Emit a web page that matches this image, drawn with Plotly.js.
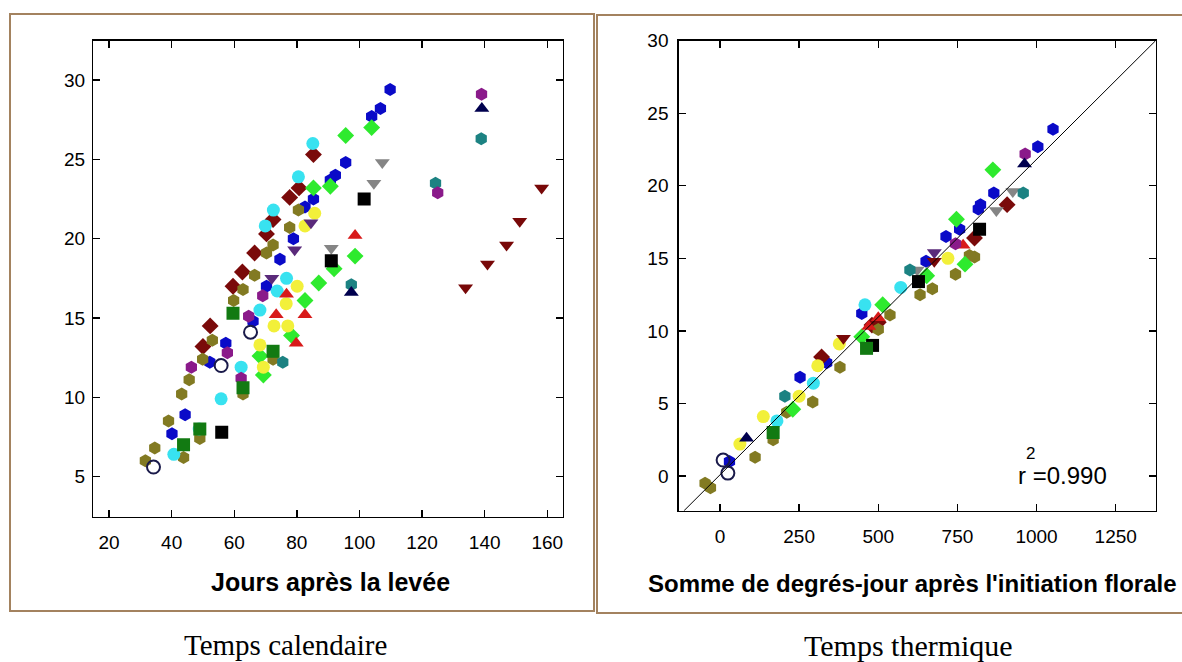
<!DOCTYPE html>
<html>
<head>
<meta charset="utf-8">
<script src="https://cdn.plot.ly/plotly-3.0.1.min.js"></script>
<style>html,body{margin:0;padding:0;background:#fff;}#chart{width:1182px;height:662px;}</style>
</head>
<body>
<div id="chart"></div>
<script>
// ---------- Data: calendar time (days after emergence vs leaves) ----------
const calBlueX = [109.8,106.7,103.9,95.6,92.3,90.7,85.3,82.6,78.9,74.6,70.3,57.3,52.2,44.3,40.1,66.0];
const calBlueY = [29.4,28.2,27.7,24.8,24.0,23.7,22.5,22.0,20.0,18.7,17.0,13.4,12.2,8.9,7.7,14.8];
const calMaroonX = [85.3,80.7,77.7,72.4,70.3,66.5,62.6,59.6,52.3,50.0];
const calMaroonY = [25.3,23.2,22.6,21.2,20.3,19.1,17.9,17.0,14.5,13.2];
const calOliveX = [80.5,77.7,72.4,70.3,66.5,62.8,59.8,53.0,49.9,45.6,43.2,39.0,49.0,34.6,31.6,43.8,62.8,72.4];
const calOliveY = [21.8,20.7,19.6,19.1,17.7,16.8,16.1,13.6,12.4,11.1,10.2,8.5,7.4,6.8,6.0,6.2,10.2,12.4];
const calGreenX = [103.9,95.6,90.7,85.3,98.6,91.9,87.0,82.6,78.3,69.3,68.2];
const calGreenY = [27.0,26.5,23.3,23.2,18.9,18.1,17.2,16.1,13.9,11.4,12.6];
const calCyanX = [85.1,80.5,72.5,69.9,76.7,73.7,68.2,62.2,55.8,48.8,40.7];
const calCyanY = [26.0,23.9,21.8,20.8,17.5,16.7,15.5,11.9,9.9,8.0,6.4];
const calYellowX = [85.7,82.6,80.1,76.6,72.7,77.1,68.2,69.3];
const calYellowY = [21.6,20.8,17.0,15.9,14.5,14.5,13.3,11.9];
const calRedX = [98.6,76.7,73.4,82.6,79.8];
const calRedY = [20.2,16.5,15.2,15.2,13.4];
const calGrayX = [107.3,104.6,91.0];
const calGrayY = [24.8,23.5,19.4];
const calBlackX = [101.5,91.0,56.0];
const calBlackY = [22.5,18.6,7.8];
const calTealX = [124.3,138.9,97.4,75.5];
const calTealY = [23.5,26.3,17.1,12.2];
const calPurpleX = [125.0,139.0,69.1,64.6,62.2,57.8,46.3];
const calPurpleY = [22.9,29.1,16.4,15.1,11.2,12.8,11.9];
const calVioletX = [84.5,79.3,72.0];
const calVioletY = [21.0,19.3,17.5];
const calNavyX = [139.1,97.4];
const calNavyY = [28.2,16.6];
const calDkGreenX = [59.6,72.4,62.8,49.0,43.8];
const calDkGreenY = [15.3,12.9,10.6,8.0,7.0];
const calBrownX = [133.9,140.9,147.0,151.2,158.2];
const calBrownY = [16.9,18.4,19.6,21.1,23.2];
const calOpenX = [65.2,34.2,55.8];
const calOpenY = [14.1,5.6,12.0];

// ---------- Data: thermal time (degree-days after floral initiation vs leaves) ----------
const thBlueX = [1052,1004,865,816,823,757,714,651,448,337,253,30];
const thBlueY = [23.9,22.7,19.5,18.4,18.7,17.0,16.5,14.8,11.2,7.8,6.8,1.0];
const thMaroonX = [907,804,500,321,480];
const thMaroonY = [18.7,16.4,10.6,8.2,10.4];
const thOliveX = [804,744,788,671,632,537,500,379,293,211,168,111,-47,-30];
const thOliveY = [15.1,13.9,15.2,12.9,12.5,11.1,10.1,7.5,5.1,4.4,2.5,1.3,-0.5,-0.8];
const thGreenX = [862,747,774,653,514,448,230];
const thGreenY = [21.1,17.7,14.6,13.8,11.8,9.6,4.6];
const thCyanX = [571,458,295,180];
const thCyanY = [13.0,11.8,6.4,3.8];
const thYellowX = [720,377,309,137,63,250];
const thYellowY = [15.0,9.1,7.6,4.1,2.2,5.5];
const thRedX = [768,500,470];
const thRedY = [15.9,10.9,10.3];
const thGrayX = [925,873,623];
const thGrayY = [19.6,18.3,14.2];
const thBlackX = [820,627,482];
const thBlackY = [17.0,13.4,9.0];
const thTealX = [958,600,205];
const thTealY = [19.5,14.2,5.5];
const thPurpleX = [964,744];
const thPurpleY = [22.2,16.0];
const thVioletX = [677];
const thVioletY = [15.4];
const thNavyX = [962,84];
const thNavyY = [21.5,2.6];
const thDkGreenX = [463,168];
const thDkGreenY = [8.8,3.0];
const thBrownX = [677,390];
const thBrownY = [14.8,9.5];
const thOpenX = [10,25];
const thOpenY = [1.1,0.2];

// regression line endpoints
const fitX = [-114, 1376];
const fitY = [-2.4, 30];

// tick labels
const calTicksX = [20,40,60,80,100,120,140,160];
const calTicksY = [5,10,15,20,25,30];
const thTicksX = [0,250,500,750,1000,1250];
const thTicksY = [0,5,10,15,20,25,30];

const series = [
  {c:'#0a0ac8', s:'hexagon', cx:calBlueX, cy:calBlueY, tx:thBlueX, ty:thBlueY},
  {c:'#7a0a0a', s:'diamond', cx:calMaroonX, cy:calMaroonY, tx:thMaroonX, ty:thMaroonY},
  {c:'#827a22', s:'hexagon', cx:calOliveX, cy:calOliveY, tx:thOliveX, ty:thOliveY},
  {c:'#2eea2e', s:'diamond', cx:calGreenX, cy:calGreenY, tx:thGreenX, ty:thGreenY},
  {c:'#38e2f0', s:'circle', cx:calCyanX, cy:calCyanY, tx:thCyanX, ty:thCyanY},
  {c:'#f2f03a', s:'circle', cx:calYellowX, cy:calYellowY, tx:thYellowX, ty:thYellowY},
  {c:'#d81a1a', s:'triangle-up', cx:calRedX, cy:calRedY, tx:thRedX, ty:thRedY},
  {c:'#858585', s:'triangle-down', cx:calGrayX, cy:calGrayY, tx:thGrayX, ty:thGrayY},
  {c:'#000000', s:'square', cx:calBlackX, cy:calBlackY, tx:thBlackX, ty:thBlackY},
  {c:'#1c8282', s:'hexagon', cx:calTealX, cy:calTealY, tx:thTealX, ty:thTealY},
  {c:'#8a1a8a', s:'hexagon', cx:calPurpleX, cy:calPurpleY, tx:thPurpleX, ty:thPurpleY},
  {c:'#5a2a7a', s:'triangle-down', cx:calVioletX, cy:calVioletY, tx:thVioletX, ty:thVioletY},
  {c:'#00004e', s:'triangle-up', cx:calNavyX, cy:calNavyY, tx:thNavyX, ty:thNavyY},
  {c:'#127a12', s:'square', cx:calDkGreenX, cy:calDkGreenY, tx:thDkGreenX, ty:thDkGreenY},
  {c:'#780808', s:'triangle-down', cx:calBrownX, cy:calBrownY, tx:thBrownX, ty:thBrownY},
  {c:'#1a1a4a', s:'circle-open', cx:calOpenX, cy:calOpenY, tx:thOpenX, ty:thOpenY}
];

const traces = [];
series.forEach(sr => {
  const m = {color: sr.c, symbol: sr.s, size: 13, line: {width: sr.s === 'circle-open' ? 2 : 0, color: sr.c}};
  traces.push({type:'scatter', mode:'markers', x: sr.cx, y: sr.cy, xaxis:'x', yaxis:'y', marker: m, showlegend:false, hoverinfo:'x+y'});
  traces.push({type:'scatter', mode:'markers', x: sr.tx, y: sr.ty, xaxis:'x2', yaxis:'y2', marker: m, showlegend:false, hoverinfo:'x+y'});
});
traces.push({type:'scatter', mode:'lines', x: fitX, y: fitY, xaxis:'x2', yaxis:'y2', line:{color:'#000', width:1}, showlegend:false, hoverinfo:'skip'});

const W = 1182, H = 662;
const px = v => v / W, py = v => 1 - v / H;
const tickFont = {family:'"Liberation Sans Narrow", "Liberation Sans", Arial, sans-serif', size:19, color:'#000'};
const axBase = {showline:true, linecolor:'#000', linewidth:1.5, mirror:'ticks', ticks:'inside', ticklen:7, tickcolor:'#000', tickwidth:1.3, showgrid:false, zeroline:false, tickfont:tickFont, fixedrange:true};

const layout = {
  width: W, height: H,
  margin: {l:0, r:0, t:0, b:0},
  paper_bgcolor:'#fff', plot_bgcolor:'#fff',
  xaxis: Object.assign({}, axBase, {domain:[px(93.4), px(562.6)], range:[15.0,164.9], tickvals: calTicksX, anchor:'y', ticklabelstandoff:8}),
  yaxis: Object.assign({}, axBase, {domain:[py(516.7), py(40.7)], range:[2.47,32.48], tickvals: calTicksY, anchor:'x', ticklabelstandoff:3}),
  xaxis2: Object.assign({}, axBase, {domain:[px(678.8), px(1155.6)], range:[-130,1376], tickvals: thTicksX, anchor:'y2', ticklabelstandoff:8}),
  yaxis2: Object.assign({}, axBase, {domain:[py(510.7), py(40.7)], range:[-2.39,30], tickvals: thTicksY, anchor:'x2', ticklabelstandoff:5}),
  shapes: [
    {type:'rect', xref:'paper', yref:'paper', x0:px(10), x1:px(594), y0:py(611), y1:py(14), line:{color:'#a3825f', width:2}},
    {type:'rect', xref:'paper', yref:'paper', x0:px(597), x1:px(1195), y0:py(613), y1:py(15), line:{color:'#a3825f', width:2}}
  ],
  annotations: [
    {xref:'paper', yref:'paper', x:px(330), y:py(582), text:'Jours après la levée', showarrow:false, xanchor:'center', yanchor:'middle', font:{family:'"Liberation Sans", Arial, sans-serif', size:25, color:'#000', weight:'bold'}},
    {xref:'paper', yref:'paper', x:px(1179), y:py(583), text:"Somme de degrés-jour après l'initiation florale", showarrow:false, xanchor:'right', yanchor:'middle', font:{family:'"Liberation Sans", Arial, sans-serif', size:24, color:'#000', weight:'bold'}},
    {xref:'paper', yref:'paper', x:px(285), y:py(645), text:'Temps calendaire', showarrow:false, xanchor:'center', yanchor:'middle', font:{family:'"Liberation Serif", "Times New Roman", serif', size:29, color:'#000'}},
    {xref:'paper', yref:'paper', x:px(908), y:py(645), text:'Temps thermique', showarrow:false, xanchor:'center', yanchor:'middle', font:{family:'"Liberation Serif", "Times New Roman", serif', size:30, color:'#000'}},
    {xref:'paper', yref:'paper', x:px(1016), y:py(475), text:'r =0.990', showarrow:false, xanchor:'left', yanchor:'middle', font:{family:'"Liberation Sans Narrow", "Liberation Sans", Arial, sans-serif', size:24, color:'#000'}},
    {xref:'paper', yref:'paper', x:px(1030), y:py(453), text:'2', showarrow:false, xanchor:'center', yanchor:'middle', font:{family:'"Liberation Sans Narrow", "Liberation Sans", Arial, sans-serif', size:17, color:'#000'}}
  ]
};

Plotly.newPlot('chart', traces, layout, {staticPlot:true, displayModeBar:false});
</script>
</body>
</html>
